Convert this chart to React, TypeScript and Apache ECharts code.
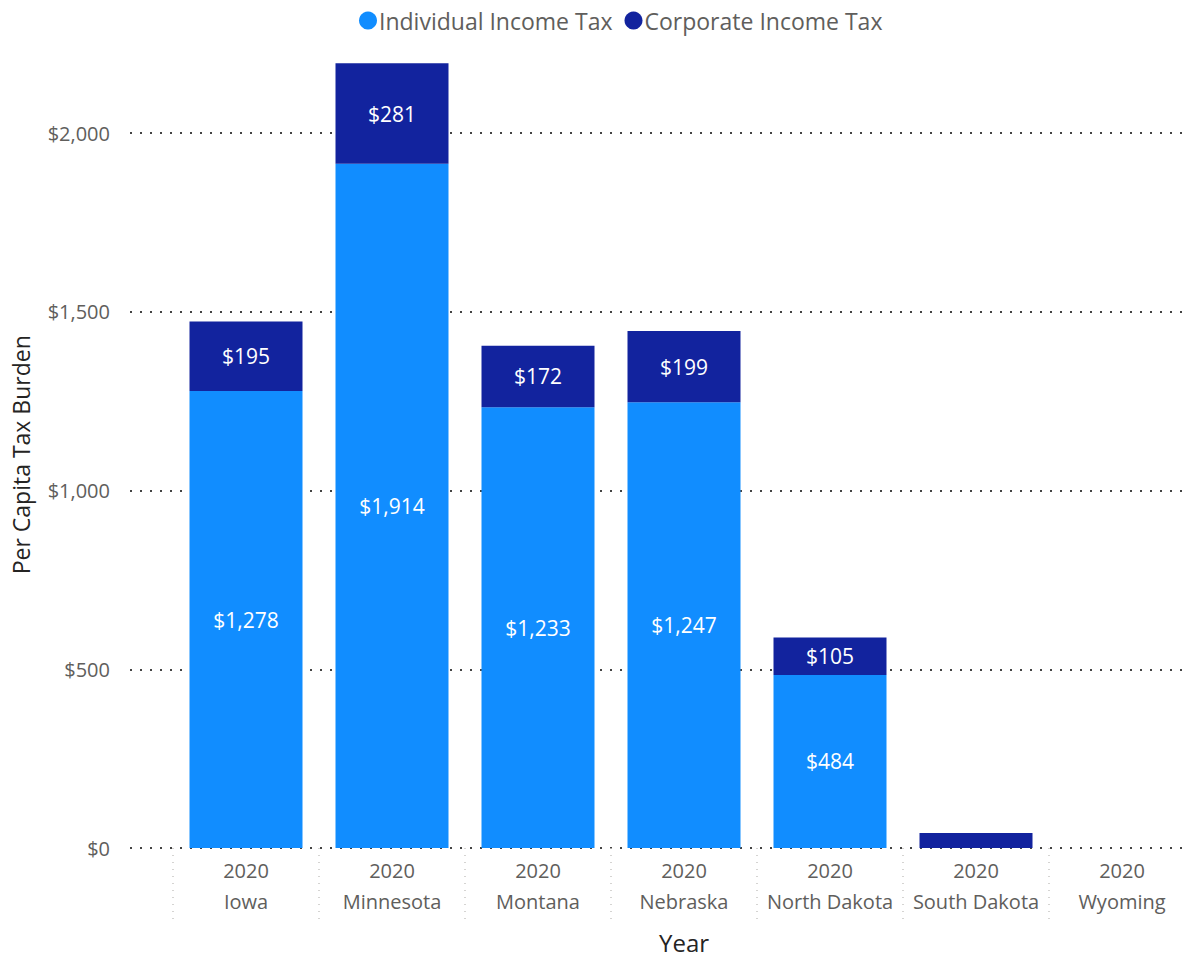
import React, { useEffect, useRef } from "react";
import * as echarts from "echarts";

const states = ["Iowa", "Minnesota", "Montana", "Nebraska", "North Dakota", "South Dakota", "Wyoming"];
const year = "2020";
const individualTax = [1278, 1914, 1233, 1247, 484, 0, 0];
const corporateTax = [195, 281, 172, 199, 105, 42, 0];
const yTicks = [0, 500, 1000, 1500, 2000];

const FONT = "'Open Sans', 'Noto Sans', sans-serif";
const fmt = (v: number) => "$" + v.toLocaleString("en-US");

export default function App() {
  const ref = useRef<HTMLDivElement>(null);
  useEffect(() => {
    document.body.style.overflow = "hidden";
    const chart = echarts.init(ref.current!, null, { renderer: "svg" });
    const labelCfg = {
      show: true,
      position: "inside",
      color: "#ffffff",
      fontFamily: FONT,
      fontSize: 21,
      formatter: (p: any) => (p.value >= 60 ? fmt(p.value) : ""),
    };
    chart.setOption({
      animation: false,
      textStyle: { fontFamily: FONT },
      legend: {
        top: 4,
        left: 354,
        icon: "circle",
        itemWidth: 18,
        itemHeight: 18,
        itemGap: 12,
        textStyle: { fontFamily: FONT, fontSize: 23, color: "#605E5C", padding: [0, 0, 0, -3] },
        data: ["Individual Income Tax", "Corporate Income Tax"],
      },
      grid: [
        { left: 130, right: 0, top: 133, bottom: 109, outerBoundsMode: "none", containLabel: false },
        { left: 173, right: 5, top: 61.5, bottom: 109, outerBoundsMode: "none", containLabel: false },
      ],
      xAxis: [
        { gridIndex: 0, type: "value", show: false, min: 0, max: 1 },
        {
          gridIndex: 1,
          type: "category",
          data: states.map((s) => year + "\n" + s),
          axisLine: { show: false },
          axisTick: {
            show: true,
            interval: 0,
            alignWithLabel: false,
            length: 72,
            lineStyle: { color: "#C8C6C4", type: [1, 6], width: 1.5 },
          },
          axisLabel: {
            interval: 0,
            margin: 7,
            fontFamily: FONT,
            fontSize: 20,
            lineHeight: 31,
            color: "#605E5C",
          },
          name: "Year",
          nameLocation: "middle",
          nameGap: 82,
          nameTextStyle: { fontFamily: FONT, fontSize: 24, color: "#252423" },
        },
      ],
      yAxis: [
        {
          gridIndex: 0,
          type: "value",
          min: yTicks[0],
          max: yTicks[yTicks.length - 1],
          interval: 500,
          axisLine: { show: false },
          axisTick: { show: false },
          axisLabel: {
            margin: 20,
            fontFamily: FONT,
            fontSize: 20,
            color: "#605E5C",
            formatter: (v: number) => fmt(v),
          },
          splitLine: { show: true, lineStyle: { color: "#444", type: [2, 8], width: 2 } },
        },
        {
          gridIndex: 1,
          type: "value",
          min: 0,
          max: 2200,
          axisLine: { show: false },
          axisTick: { show: false },
          axisLabel: { show: false },
          splitLine: { show: false },
          name: "Per Capita Tax Burden",
          nameLocation: "middle",
          nameGap: 141,
          nameTextStyle: { fontFamily: FONT, fontSize: 23, color: "#252423" },
        },
      ],
      series: [
        {
          name: "Individual Income Tax",
          type: "bar",
          stack: "tax",
          xAxisIndex: 1,
          yAxisIndex: 1,
          barWidth: 113,
          itemStyle: { color: "#118DFF" },
          label: labelCfg,
          data: individualTax,
        },
        {
          name: "Corporate Income Tax",
          type: "bar",
          stack: "tax",
          xAxisIndex: 1,
          yAxisIndex: 1,
          barWidth: 113,
          itemStyle: { color: "#12239E" },
          label: labelCfg,
          data: corporateTax,
        },
      ],
    });
    return () => chart.dispose();
  }, []);
  return (
    <div
      ref={ref}
      style={{ position: "fixed", left: 0, top: 0, width: 1200, height: 957, background: "#fff" }}
    />
  );
}
